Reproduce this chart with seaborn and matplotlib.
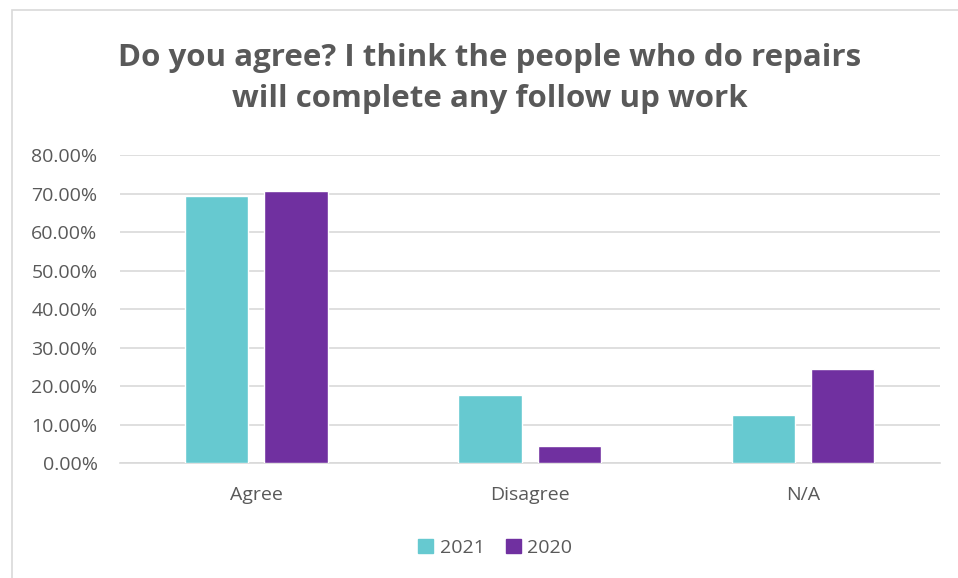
import matplotlib
matplotlib.use("Agg")
import matplotlib.pyplot as plt
from matplotlib.patches import Rectangle
from matplotlib.ticker import FuncFormatter
import seaborn as sns
import pandas as pd

categories = ["Agree", "Disagree", "N/A"]
years = ["2021", "2020"]
values_2021 = [69.5, 17.7, 12.5]
values_2020 = [70.7, 4.6, 24.4]
y_ticks = [0, 10, 20, 30, 40, 50, 60, 70, 80]

colors = {"2021": "#66C9D0", "2020": "#7030A0"}
text_grey = "#595959"

df = pd.DataFrame({
    "category": categories * 2,
    "year": [years[0]] * 3 + [years[1]] * 3,
    "value": values_2021 + values_2020,
})

sns.set_theme(style="white")
plt.rcParams["font.family"] = ["Open Sans", "DejaVu Sans"]

fig = plt.figure(figsize=(9.58, 5.78), dpi=100)
ax = fig.add_axes([0.125, 0.1984, 0.856, 0.5329])

sns.barplot(data=df, x="category", y="value", hue="year", hue_order=years,
            palette=colors, order=categories, width=0.58, gap=0.2,
            saturation=1, ax=ax, legend=False, zorder=3)

ax.set_ylim(0, 80)
ax.set_xlim(-0.5, 2.5)
ax.set_yticks(y_ticks)
ax.yaxis.set_major_formatter(FuncFormatter(lambda v, _: f"{v:.2f}%"))
ax.grid(axis="y", color="#D9D9D9", linewidth=1.2, zorder=0)
ax.set_axisbelow(True)
for side in ["top", "right", "left"]:
    ax.spines[side].set_visible(False)
ax.spines["bottom"].set_color("#D9D9D9")
ax.spines["bottom"].set_linewidth(1.2)
ax.set_xlabel("")
ax.set_ylabel("")
ax.tick_params(axis="both", length=0, labelsize=14, labelcolor=text_grey)
ax.tick_params(axis="y", pad=16)
ax.tick_params(axis="x", pad=16)

fig.text(0.511, 0.864,
         "Do you agree? I think the people who do repairs\nwill complete any follow up work",
         ha="center", va="center", fontsize=22.5, fontweight="bold",
         color=text_grey, linespacing=1.45)

handles = [Rectangle((0, 0), 1, 1, color=colors[y]) for y in years]
fig.legend(handles, years, loc="center", bbox_to_anchor=(0.517, 0.052),
           ncol=2, frameon=False, fontsize=14, labelcolor=text_grey,
           handlelength=0.75, handleheight=0.75, handletextpad=0.35,
           columnspacing=1.1)

fig.patches.append(Rectangle((12 / 958, -0.01), 1.0, 1 - 10 / 578 + 0.01,
                             transform=fig.transFigure, fill=False,
                             edgecolor="#D9D9D9", linewidth=1.2))

fig.savefig("out.png", dpi=100)
